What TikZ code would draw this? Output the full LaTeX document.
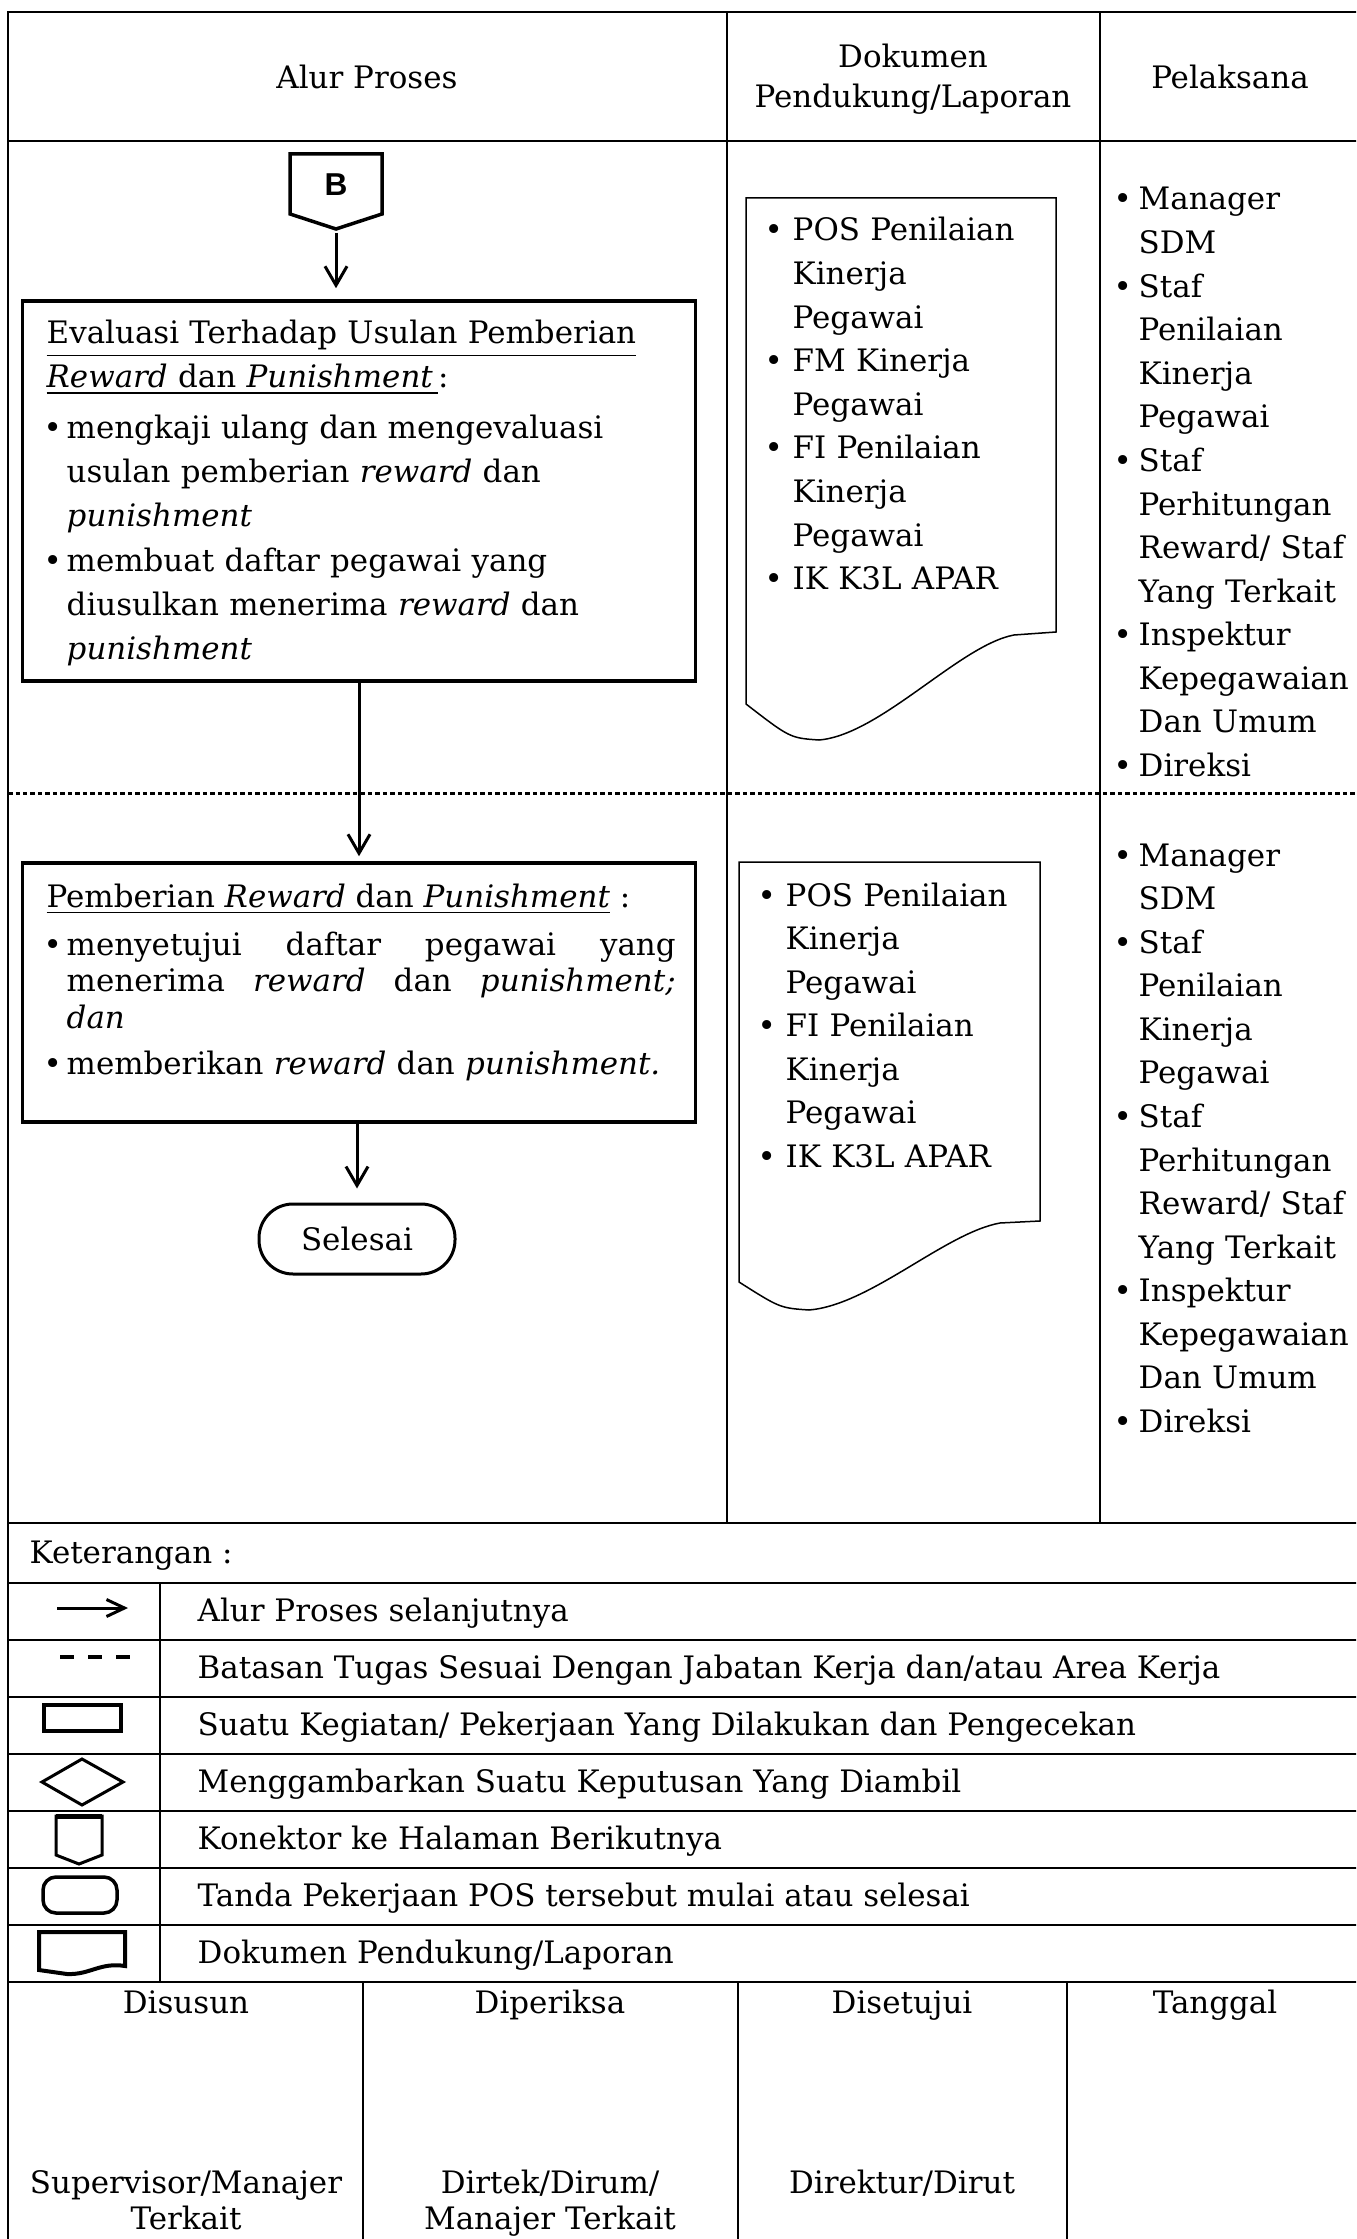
\documentclass[tikz,border=0pt]{standalone}
\usepackage{fontspec}
\setmainfont{DejaVu Serif}
\newfontfamily\konfont{Liberation Sans}
\usetikzlibrary{arrows.meta, positioning}

% 带悬挂缩进的项目符号（各项之间用 \par 分开）
\newcommand{\butir}[1]{\hangindent=#1\hangafter=1\relax\makebox[#1][l]{\textbullet}\ignorespaces}
% 执行人列表（两行相同）
\newcommand{\pelaksana}{%
  \butir{2.5mm}Manager\newline SDM\par
  \butir{2.5mm}Staf\newline Penilaian\newline Kinerja\newline Pegawai\par
  \butir{2.5mm}Staf\newline Perhitungan\newline Reward/ Staf\newline Yang Terkait\par
  \butir{2.5mm}Inspektur\newline Kepegawaian\newline Dan Umum\par
  \butir{2.5mm}Direksi\par}

\begin{document}
\begin{tikzpicture}[x=0.1mm, y=-0.1mm,
    >={Straight Barb[length=1.9mm, width=2.2mm]},
    font=\fontsize{8.8}{12.4}\selectfont,
    garis/.style={line width=0.2mm},
    teks/.style={inner sep=0pt, anchor=base west},
    daftar/.style={teks, align=left, text width=#1},
    kotak/.style={draw, line width=0.35mm, minimum width=67.3mm, inner sep=0pt},
    panah/.style={->, line width=0.3mm},
    dok/.style={line width=0.15mm}]
    \fill[white] (0,0) rectangle (1356,2239);
    \useasboundingbox (0,0) rectangle (1356,2239);
    \clip (0,0) rectangle (1356,2239);

    % 表格线
    \draw[garis] (8,2239) -- (8,12) -- (1362,12);   % 左边框与上边框
    \draw[garis] (8,141) -- (1362,141);             % 表头下线
    \draw[garis] (727,12) -- (727,1523);
    \draw[garis] (1100,12) -- (1100,1523);
    \draw[line width=0.3mm, dash pattern=on 0.45mm off 0.3mm] (8,793) -- (1362,793);  % 职责分界
    \foreach \y in {1523,1583,1640,1697,1754,1811,1868,1925,1982} {
        \draw[garis] (8,\y) -- (1362,\y);
    }
    \draw[garis] (160,1583) -- (160,1982);
    \foreach \x in {363,738,1067} {
        \draw[garis] (\x,1982) -- (\x,2239);
    }

    % 表头
    \node[teks, anchor=base] (hAlur) at (367,89) {Alur Proses};
    \node[teks, anchor=base, align=center, font=\fontsize{8.8}{11.4}\selectfont] (hDok) at (913,108) {Dokumen\\Pendukung/Laporan};
    \node[teks, anchor=base] (hPel) at (1230,89) {Pelaksana};

    % 连接符 B
    \draw[line width=0.35mm] (290,154) -- (382,154) -- (382,214) -- (336,229) -- (290,214) -- cycle;
    \node[inner sep=0pt, font=\konfont\bfseries\fontsize{9}{10}\selectfont] (konB) at (336,185) {B};
    \coordinate (ujungB) at (336,229);

    % 流程框
    \node[kotak, minimum height=38mm] (evaluasi) at (359,491) {};
    \node[daftar=65mm] (judul1) at (46,344) {\underline{Evaluasi Terhadap Usulan Pemberian}\\
        \underline{\textit{Reward} dan \textit{Punishment}\,}:};
    \node[daftar=64mm] (usul1) at (43,439) {\butir{2.3mm}mengkaji ulang dan mengevaluasi\newline
        usulan pemberian \textit{reward} dan\newline \textit{punishment}\par};
    \node[daftar=64mm] (usul2) at (43,572) {\butir{2.3mm}membuat daftar pegawai yang\newline
        diusulkan menerima \textit{reward} dan\newline \textit{punishment}\par};

    \node[kotak, minimum height=25.9mm] (pemberian) at (359,992.5) {};
    \node[teks] (judul2) at (46,907) {\underline{Pemberian \textit{Reward} dan \textit{Punishment}} :};
    \node[teks, align=justify, text width=63.2mm, font=\fontsize{8.8}{10.5}\selectfont] (setuju) at (43,955)
        {\butir{2.3mm}menyetujui daftar pegawai yang\linebreak menerima \textit{reward} dan \textit{punishment;}\linebreak \textit{dan}\par};
    \node[daftar=64mm] (beri) at (43,1074) {\butir{2.3mm}memberikan \textit{reward} dan \textit{punishment.}\par};

    \node[draw, line width=0.3mm, rounded corners=3.4mm, minimum width=19.6mm, minimum height=7mm] (selesai) at (357,1239) {Selesai};

    \draw[panah, shorten <=0.4mm, shorten >=1.1mm] (ujungB) -- (ujungB |- evaluasi.north);
    \draw[panah, shorten >=0.5mm] (evaluasi.south) -- (pemberian.north);
    \draw[panah, shorten >=1.4mm] (pemberian.south -| selesai.north) -- (selesai.north);

    % 文档符号
    \draw[dok] (746,198) -- (1056,198) -- (1056,632) -- (1014,635)
        .. controls (960,645) and (880,735) .. (819,740)
        .. controls (790,738) .. (746,704) -- cycle;
    \node[daftar=30mm] (dok1) at (764,241) {\butir{2.8mm}POS Penilaian\newline Kinerja\newline Pegawai\par
        \butir{2.8mm}FM Kinerja\newline Pegawai\par
        \butir{2.8mm}FI Penilaian\newline Kinerja\newline Pegawai\par
        \butir{2.8mm}IK K3L APAR\par};
    \draw[dok] (739,862) -- (1040,862) -- (1040,1221) -- (1000,1223)
        .. controls (945,1233) and (870,1305) .. (809,1310)
        .. controls (780,1308) .. (739,1282) -- cycle;
    \node[daftar=30mm] (dok2) at (757,906) {\butir{2.8mm}POS Penilaian\newline Kinerja\newline Pegawai\par
        \butir{2.8mm}FI Penilaian\newline Kinerja\newline Pegawai\par
        \butir{2.8mm}IK K3L APAR\par};

    % 执行人
    \node[daftar=26mm] (pel1) at (1113,210) {\pelaksana};
    \node[daftar=26mm] (pel2) at (1113,866) {\pelaksana};

    % 图例
    \node[teks] (ket) at (29,1563) {Keterangan :};
    \draw[line width=0.3mm, -{Straight Barb[length=1.8mm, width=1.7mm]}] (57,1608) -- (128,1608);
    \draw[line width=0.4mm, dash pattern=on 1.4mm off 1.4mm] (60,1657) -- (131,1657);
    \draw[line width=0.4mm] (44,1705) rectangle (121,1731);
    \draw[line width=0.3mm] (42,1782) -- (82,1759) -- (123,1782) -- (82,1805) -- cycle;
    \draw[line width=0.3mm] (56,1816) -- (102,1816) -- (102,1855) -- (79,1864) -- (56,1855) -- cycle;
    \draw[line width=0.5mm] (56,1816) -- (102,1816);  % 上边加粗
    \draw[line width=0.35mm, rounded corners=1.3mm] (43,1877) rectangle (117,1913);
    \draw[line width=0.4mm] (39,1932) -- (125,1932) -- (125,1966)
        .. controls (100,1962) and (90,1975) .. (67,1974) -- (39,1970) -- cycle;
    \foreach \i/\y/\isi in {1/1621/{Alur Proses selanjutnya},
                            2/1678/{Batasan Tugas Sesuai Dengan Jabatan Kerja dan/atau Area Kerja},
                            3/1735/{Suatu Kegiatan/ Pekerjaan Yang Dilakukan dan Pengecekan},
                            4/1792/{Menggambarkan Suatu Keputusan Yang Diambil},
                            5/1849/{Konektor ke Halaman Berikutnya},
                            6/1906/{Tanda Pekerjaan POS tersebut mulai atau selesai},
                            7/1963/{Dokumen Pendukung/Laporan}} {
        \node[teks] (leg\i) at (197,\y) {\isi};
    }

    % 签名栏
    \foreach \x/\judul in {186/Disusun, 550/Diperiksa, 902/Disetujui, 1215/Tanggal} {
        \node[teks, anchor=base] (ttd\judul) at (\x,2013) {\judul};
    }
    \node[teks, anchor=base, align=center, font=\fontsize{8.8}{10.2}\selectfont] (jabSusun) at (186,2229) {Supervisor/Manajer\\Terkait};
    \node[teks, anchor=base, align=center, font=\fontsize{8.8}{10.2}\selectfont] (jabPeriksa) at (550,2229) {Dirtek/Dirum/\\Manajer Terkait};
    \node[teks, anchor=base] (jabSetuju) at (902,2193) {Direktur/Dirut};
\end{tikzpicture}
\end{document}
